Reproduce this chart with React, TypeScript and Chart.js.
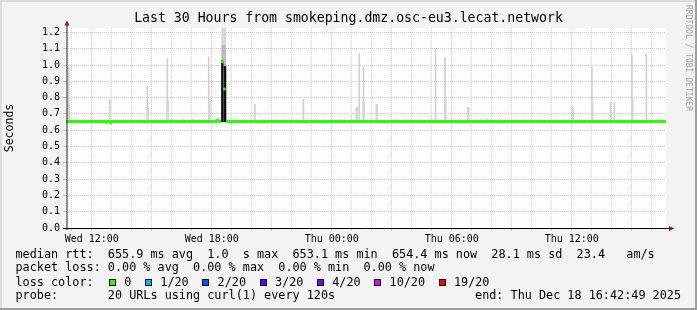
import React, { useEffect, useRef } from 'react';
import { Chart, registerables } from 'chart.js';

Chart.register(...registerables);

const FONT = '"DejaVu Sans Mono", monospace';

// ---------- text ----------
const TITLE = 'Last 30 Hours from smokeping.dmz.osc-eu3.lecat.network';
const Y_TITLE = 'Seconds';
const WATERMARK = 'RRDTOOL / TOBI OETIKER';

// ---------- time axis (hours since Wed 00:00) ----------
const START_HOUR = 10.7136; // Wed 10:42:49
const END_HOUR = 40.7136; // Thu 16:42:49
const hourTicks = [11, 12, 13, 14, 15, 16, 17, 18, 19, 20, 21, 22, 23, 24, 25, 26, 27, 28, 29, 30, 31, 32, 33, 34, 35, 36, 37, 38, 39, 40];
const labelHours = [12, 18, 24, 30, 36];
const timeLabels = ['Wed 12:00', 'Wed 18:00', 'Thu 00:00', 'Thu 06:00', 'Thu 12:00'];

// ---------- value axis (seconds) ----------
const yTicks = [0, 0.1, 0.2, 0.3, 0.4, 0.5, 0.6, 0.7, 0.8, 0.9, 1.0, 1.1, 1.2];
const Y_MAX = 1.227;

// ---------- median rtt (s) ----------
const medianHours = [10.7136, 12.7, 12.74, 12.78, 12.9, 12.95, 13.0, 18.22, 18.3, 18.38, 18.46, 18.48, 18.72, 40.7136];
const medianValues = [0.654, 0.654, 0.648, 0.654, 0.654, 0.647, 0.654, 0.654, 0.662, 0.654, 0.654, null, 0.654, 0.654];
const spikeMedianHours = [18.54, 18.63];
const spikeMedianValues = [1.02, 0.853];

// ---------- smoke (ping spread), thin outliers ----------
const SMOKE_BASE = 0.652;
const smokeHours = [10.85, 12.91, 14.78, 15.5, 15.78, 16.56, 17.85, 19.0, 20.16, 20.56, 22.0, 22.58, 23.56, 24.31, 25.0, 25.38, 25.59, 25.9, 27.16, 27.71, 29.0, 29.19, 29.66, 30.06, 31.45, 31.75, 35.58, 36.38, 37.01, 37.94, 38.13, 38.45, 39.01, 39.73, 40.45];
const smokeTops = [0.99, 0.786, 0.87, 0.667, 1.04, 0.668, 1.05, 0.666, 0.76, 0.665, 0.666, 0.79, 0.665, 0.666, 0.667, 1.07, 0.985, 0.666, 0.664, 0.665, 0.666, 1.10, 1.047, 0.665, 0.666, 0.67, 0.665, 0.666, 0.985, 0.77, 0.77, 0.667, 1.06, 1.07, 0.667];
// denser smoke (wider)
const wideHours = [10.85, 14.8, 15.8, 16.0, 17.05, 17.88, 25.25, 25.6, 26.25, 29.68, 30.83, 36.05, 37.02, 39.03];
const wideTops = [0.76, 0.74, 0.78, 0.667, 0.667, 0.79, 0.74, 0.77, 0.76, 0.79, 0.74, 0.74, 0.77, 0.79];
// burst around Wed 18:35
const burstHour = 18.6;
const burstTops = [1.24, 1.12, 1.0, 0.86];
const blackHours = [18.53, 18.67];
const blackTops = [1.026, 0.99];

// ---------- legend ----------
const rttStats = ['655.9 ms avg', '1.0  s max', '653.1 ms min', '654.4 ms now', '28.1 ms sd', '23.4   am/s'];
const lossStats = ['0.00 % avg', '0.00 % max', '0.00 % min', '0.00 % now'];
const lossLabels = ['0', '1/20', '2/20', '3/20', '4/20', '10/20', '19/20'];
const lossColors = ['#26ff00', '#00b8ff', '#0059ff', '#5e00ff', '#7e00ff', '#dd00ff', '#ff0000'];
const probeText = '20 URLs using curl(1) every 120s';
const endText = 'end: Thu Dec 18 16:42:49 2025';

const GRID_MINOR = 'rgba(140,140,140,0.38)';
const GRID_MAJOR = 'rgba(222,81,81,0.42)';

const rrdPlugin = {
  id: 'rrdFrame',
  beforeDraw(chart: any) {
    const { ctx, width, height, chartArea: a } = chart;
    ctx.save();
    ctx.fillStyle = '#f3f3f3';
    ctx.fillRect(0, 0, width, height);
    ctx.fillStyle = '#dcdcdc';
    ctx.fillRect(0, 0, width, 2);
    ctx.fillRect(0, 0, 2, height);
    ctx.fillStyle = '#9e9e9e';
    ctx.fillRect(0, height - 2, width, 2);
    ctx.fillRect(width - 2, 0, 2, height);
    ctx.fillStyle = '#ffffff';
    ctx.fillRect(a.left + 1, a.top, a.right - a.left - 1, a.bottom - a.top);
    ctx.restore();
  },
  afterDraw(chart: any) {
    const { ctx, chartArea: a } = chart;
    ctx.save();
    // axes
    ctx.lineWidth = 1;
    ctx.strokeStyle = '#202020';
    ctx.beginPath();
    ctx.moveTo(a.left + 1, a.bottom + 2);
    ctx.lineTo(a.left + 1, a.top - 4);
    ctx.stroke();
    ctx.strokeStyle = '#000000';
    ctx.beginPath();
    ctx.moveTo(a.left - 3, a.bottom + 0.5);
    ctx.lineTo(a.right + 4, a.bottom + 0.5);
    ctx.stroke();
    // arrows
    ctx.fillStyle = '#7f1f1f';
    ctx.beginPath();
    ctx.moveTo(a.left - 1.5, a.top - 2.5);
    ctx.lineTo(a.left + 3.5, a.top - 2.5);
    ctx.lineTo(a.left + 1, a.top - 7.5);
    ctx.closePath();
    ctx.fill();
    ctx.beginPath();
    ctx.moveTo(a.right + 3, a.bottom - 2);
    ctx.lineTo(a.right + 3, a.bottom + 3);
    ctx.lineTo(a.right + 8.5, a.bottom + 0.5);
    ctx.closePath();
    ctx.fill();

    // title
    ctx.fillStyle = '#000000';
    ctx.font = `13.2px ${FONT}`;
    ctx.textAlign = 'center';
    ctx.textBaseline = 'middle';
    ctx.fillText(TITLE, 348.5, 19);

    // watermark
    ctx.save();
    ctx.translate(688.5, 5);
    ctx.rotate(Math.PI / 2);
    ctx.font = `8px ${FONT}`;
    ctx.fillStyle = '#a0a0a0';
    ctx.textAlign = 'left';
    ctx.textBaseline = 'middle';
    ctx.fillText(WATERMARK, 0, 0);
    ctx.restore();

    // legend
    ctx.fillStyle = '#000000';
    ctx.font = `11.8px ${FONT}`;
    ctx.textAlign = 'left';
    ctx.textBaseline = 'middle';
    const x0 = 15.5;
    const ys = [254.5, 268.3, 282.5, 296];
    ctx.fillText('median rtt:  ' + rttStats.join('  '), x0, ys[0]);
    ctx.fillText('packet loss: ' + lossStats.join('  '), x0, ys[1]);
    ctx.fillText('loss color:', x0, ys[2]);
    let sx = 109;
    for (let i = 0; i < lossLabels.length; i++) {
      const bx = Math.round(sx);
      ctx.fillStyle = '#000000';
      ctx.fillRect(bx, 279, 7, 7);
      ctx.fillStyle = lossColors[i];
      ctx.fillRect(bx + 1, 280, 5, 5);
      ctx.fillStyle = '#000000';
      const tx = sx + 15.3;
      ctx.fillText(lossLabels[i], tx, ys[2]);
      sx = tx + ctx.measureText(lossLabels[i]).width + 13.6;
    }
    ctx.fillText('probe:       ' + probeText, x0, ys[3]);
    ctx.textAlign = 'right';
    ctx.fillText(endText, 681, ys[3]);
    ctx.restore();
  },
};

const gridColor = (ctx: any) => (ctx.tick && Math.abs(ctx.tick.value % 3) < 1e-6 ? GRID_MAJOR : GRID_MINOR);

export default function App() {
  const ref = useRef<HTMLCanvasElement>(null);
  useEffect(() => {
    const canvas = ref.current!;
    const bar = (hours: number[], tops: number[]) => hours.map((h, i) => ({ x: h, y: [SMOKE_BASE, tops[i]] }));
    const burstColors = ['#d6d6d6', '#bcbcbc', '#9a9a9a', '#727272'];
    const datasets: any[] = [
      {
        type: 'line',
        label: 'median spike',
        data: spikeMedianHours.map((h, i) => ({ x: h, y: spikeMedianValues[i] })),
        showLine: false,
        pointStyle: 'rect',
        pointRadius: 1.9,
        pointBackgroundColor: '#26ff00',
        pointBorderWidth: 0,
        order: 0,
      },
      {
        type: 'line',
        label: 'median rtt',
        data: medianHours.map((h, i) => ({ x: h, y: medianValues[i] })),
        borderColor: '#26ff00',
        borderWidth: 3,
        pointRadius: 0,
        tension: 0,
        spanGaps: false,
        borderCapStyle: 'butt',
        order: 1,
      },
      {
        type: 'bar',
        label: 'burst median',
        data: bar(blackHours, blackTops),
        backgroundColor: '#111111',
        barThickness: 1.6,
        grouped: false,
        order: 2,
      },
      ...burstTops.map((t, i) => ({
        type: 'bar',
        label: 'burst ' + i,
        data: [{ x: burstHour, y: [SMOKE_BASE, t] }],
        backgroundColor: burstColors[i],
        barThickness: 4,
        grouped: false,
        order: 6 - i,
      })),
      {
        type: 'bar',
        label: 'smoke dense',
        data: bar(wideHours, wideTops),
        backgroundColor: '#d4d4d4',
        barThickness: 2,
        grouped: false,
        order: 7,
      },
      {
        type: 'bar',
        label: 'smoke',
        data: bar(smokeHours, smokeTops),
        backgroundColor: '#cfcfcf',
        barThickness: 1,
        grouped: false,
        order: 8,
      },
    ];

    const chart = new Chart(canvas, {
      type: 'bar',
      data: { datasets },
      plugins: [rrdPlugin],
      options: {
        animation: false,
        responsive: false,
        maintainAspectRatio: false,
        events: [],
        layout: { padding: { top: 28, left: 0, right: 31, bottom: 0 } },
        plugins: {
          legend: { display: false },
          title: { display: false },
          tooltip: { enabled: false },
        },
        scales: {
          x: {
            type: 'linear',
            min: START_HOUR,
            max: END_HOUR,
            offset: false,
            afterBuildTicks: (s: any) => {
              s.ticks = hourTicks.map((v) => ({ value: v }));
            },
            afterFit: (s: any) => {
              s.height = 82;
            },
            grid: { color: gridColor, lineWidth: 1, drawTicks: true, tickLength: 3, offset: false },
            border: { display: false, dash: [1, 1] },
            ticks: {
              autoSkip: false,
              maxRotation: 0,
              minRotation: 0,
              padding: 2,
              color: '#000000',
              font: { family: FONT, size: 10 },
              callback: (v: any) => {
                const i = labelHours.indexOf(Number(v));
                return i >= 0 ? timeLabels[i] : '';
              },
            },
          },
          y: {
            type: 'linear',
            min: 0,
            max: Y_MAX,
            afterBuildTicks: (s: any) => {
              s.ticks = yTicks.map((v) => ({ value: v }));
            },
            afterFit: (s: any) => {
              s.width = 66;
            },
            grid: { color: GRID_MAJOR, lineWidth: 1, drawTicks: true, tickLength: 3 },
            border: { display: false, dash: [1, 1] },
            ticks: {
              padding: 3,
              color: '#000000',
              font: { family: FONT, size: 10 },
              callback: (v: any) => Number(v).toFixed(1),
            },
            title: {
              display: true,
              text: Y_TITLE,
              color: '#000000',
              font: { family: FONT, size: 11.5 },
              padding: { top: 3, bottom: 0 },
            },
          },
        },
      } as any,
    } as any);
    return () => chart.destroy();
  }, []);

  return (
    <div style={{ position: 'absolute', left: 0, top: 0, width: 697, height: 310 }}>
      <canvas ref={ref} width={697} height={310} style={{ display: 'block', width: 697, height: 310 }} />
    </div>
  );
}
